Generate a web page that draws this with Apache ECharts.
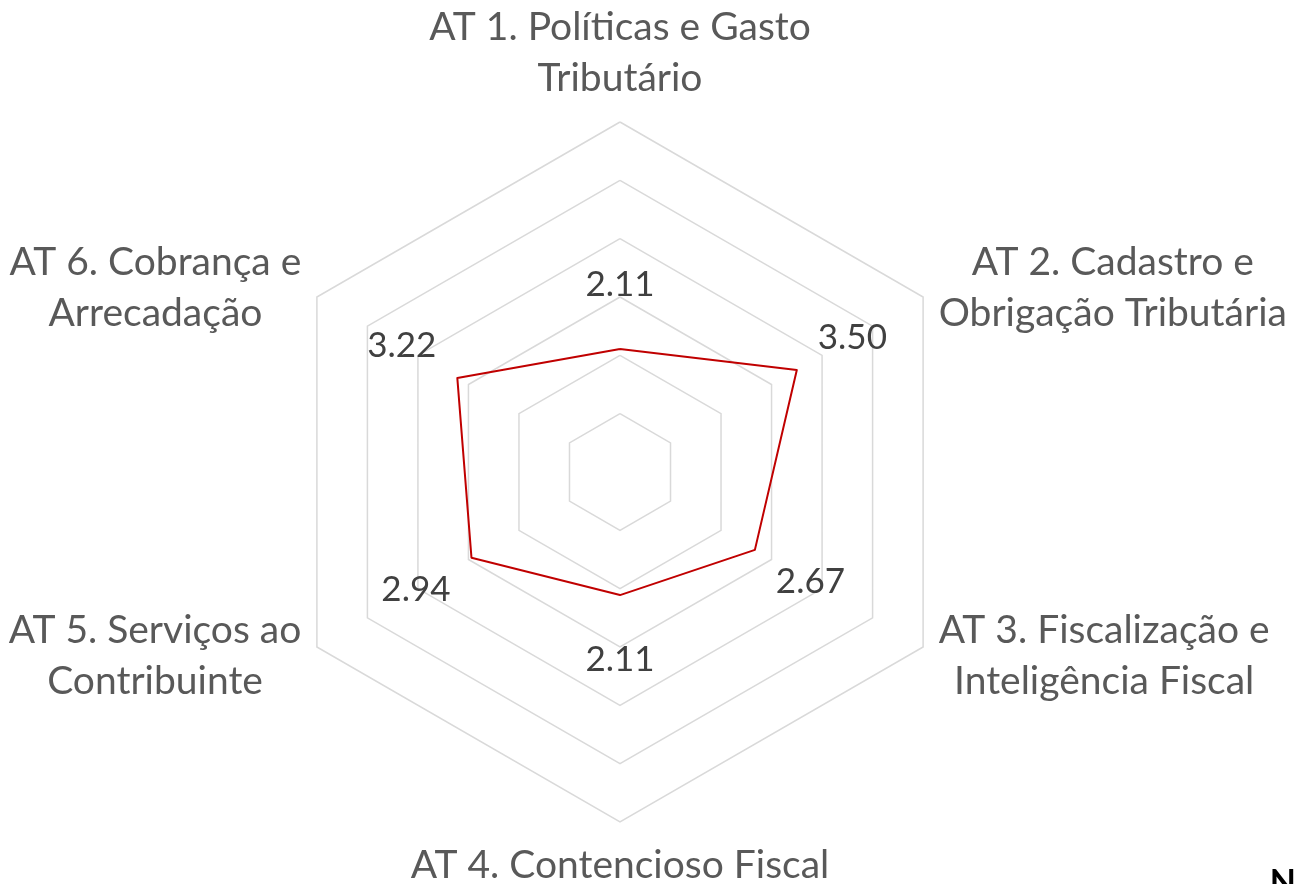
<!DOCTYPE html>
<html>
<head>
<meta charset="utf-8">
<script src="https://cdn.jsdelivr.net/npm/echarts@6/dist/echarts.min.js"></script>
<style>
  html, body { margin: 0; padding: 0; background: #fff; }
  #chart { width: 1296px; height: 884px; }
</style>
</head>
<body>
<div id="chart"></div>
<script>
// eixos, na ordem AT 1 .. AT 6 (sentido horário a partir do topo)
const categories = [
  'AT 1. Políticas e Gasto\nTributário',
  'AT 2. Cadastro e\nObrigação Tributária',
  'AT 3. Fiscalização e\nInteligência Fiscal',
  'AT 4. Contencioso Fiscal',
  'AT 5. Serviços ao\nContribuinte',
  'AT 6. Cobrança e\nArrecadação'
];
const values = [2.11, 3.50, 2.67, 2.11, 2.94, 3.22];
const axisMax = 6;

// echarts desenha o radar no sentido anti-horário, entao inverte
const order = [0, 5, 4, 3, 2, 1];
const labelPad = 1.1; // rotulo fica um pouco fora do ponto

const chart = echarts.init(document.getElementById('chart'));

const option = {
  backgroundColor: '#ffffff',
  animation: false,
  radar: {
    center: [620, 472],
    radius: 350,
    startAngle: 90,
    splitNumber: 6,
    shape: 'polygon',
    nameGap: 18,
    indicator: order.map(i => ({ name: categories[i], min: 0, max: axisMax })),
    axisName: {
      formatter: function (name) {
        return name.split('\n').map(s => '{c|' + s + '}').join('\n');
      },
      rich: {
        c: {
          align: 'center',
          fontFamily: 'Lato',
          fontSize: 39,
          lineHeight: 51,
          color: '#595959'
        }
      }
    },
    axisLine: { show: false },
    splitArea: { show: false },
    splitLine: { lineStyle: { color: '#d9d9d9', width: 1.5 } }
  },
  series: [
    {
      type: 'radar',
      symbol: 'none',
      silent: true,
      lineStyle: { color: '#c00000', width: 2 },
      data: [{ value: order.map(i => values[i]) }]
    },
    {
      // só os rótulos de valor
      type: 'radar',
      symbol: 'circle',
      symbolSize: 1,
      silent: true,
      itemStyle: { color: 'transparent' },
      lineStyle: { width: 0, opacity: 0 },
      label: {
        show: true,
        position: 'inside',
        fontFamily: 'Lato',
        fontSize: 35,
        color: '#404040',
        formatter: function (p) {
          const v = Array.isArray(p.value) ? p.value[p.dimensionIndex || 0] : p.value;
          return (v - labelPad).toFixed(2);
        }
      },
      data: [{ value: order.map(i => values[i] + labelPad) }]
    }
  ],
  graphic: [
    {
      type: 'text',
      right: 0,
      top: 866,
      style: { text: 'N', fontFamily: 'Lato', fontWeight: 'bold', fontSize: 34, fill: '#000' }
    }
  ]
};

chart.setOption(option);
</script>
</body>
</html>
